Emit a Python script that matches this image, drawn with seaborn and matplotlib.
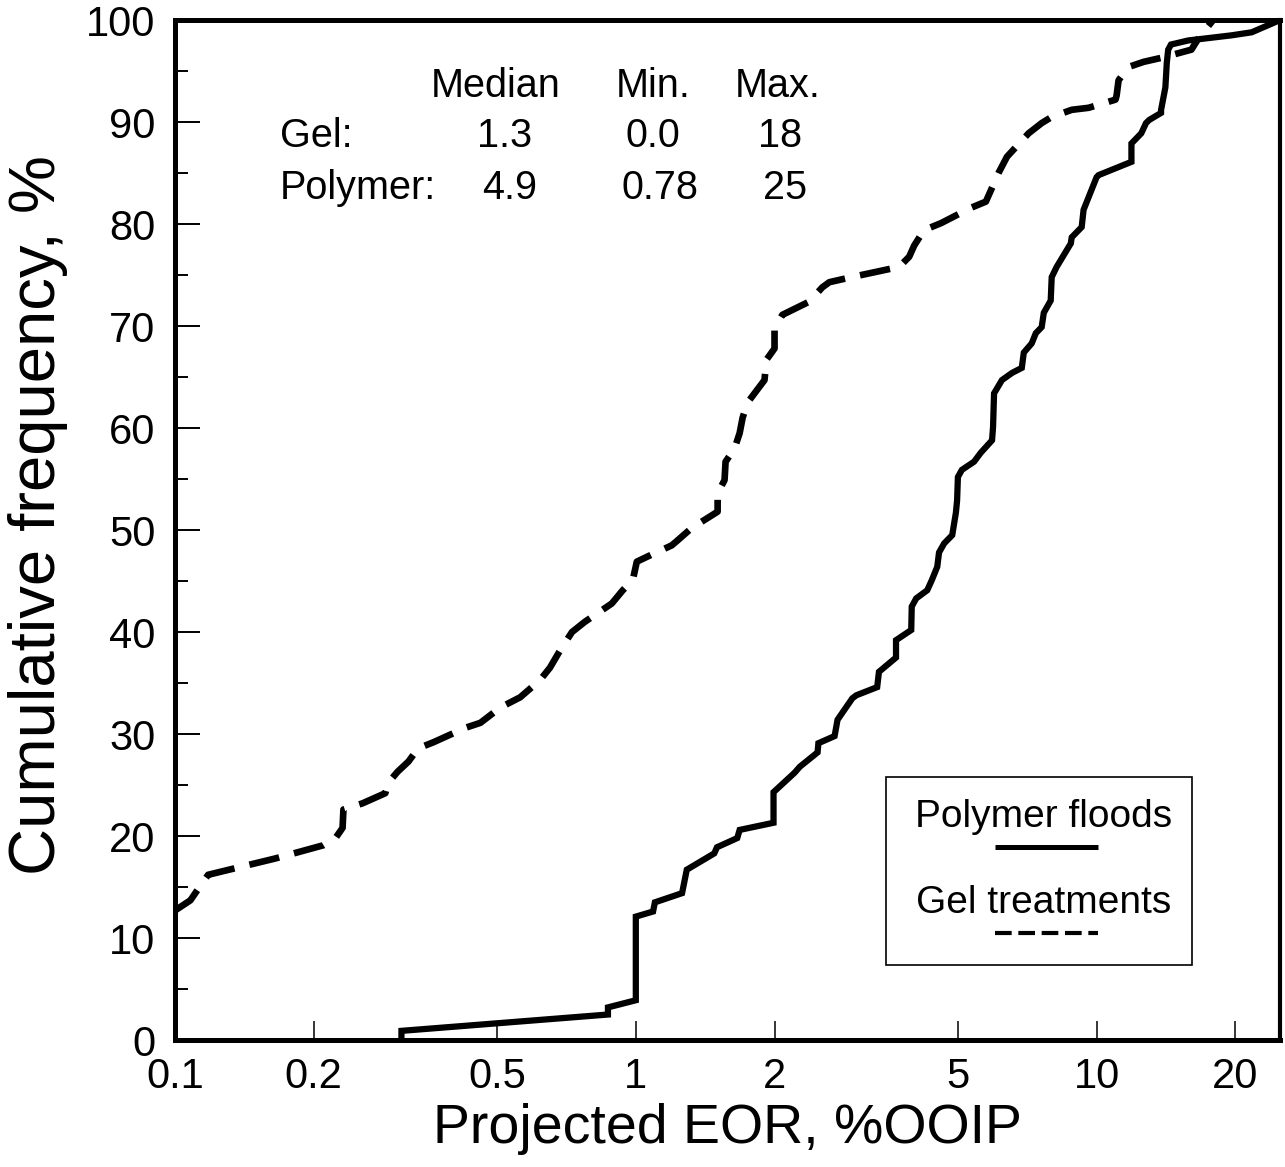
import matplotlib
matplotlib.use("Agg")
import matplotlib.pyplot as plt
from matplotlib.ticker import FixedLocator, FixedFormatter, MultipleLocator, NullLocator
from matplotlib.patches import Rectangle
import numpy as np
import pandas as pd
import seaborn as sns

# Cumulative frequency curves (projected EOR, %OOIP  vs  cumulative %)
polymer_eor = [0.31, 0.31, 0.87, 0.87, 1.0, 1.0, 1.09, 1.10, 1.26, 1.29, 1.48, 1.50,
               1.66, 1.68, 1.99, 1.99, 2.21, 2.27, 2.48, 2.49, 2.70, 2.74, 2.95, 3.01,
               3.34, 3.37, 3.67, 3.67, 3.96, 3.97, 4.06, 4.29, 4.39, 4.51, 4.55, 4.67,
               4.86, 4.95, 4.98, 5.00, 5.10, 5.42, 5.61, 5.93, 5.96, 5.99, 6.23, 6.55,
               6.88, 6.95, 7.23, 7.38, 7.60, 7.68, 7.95, 7.99, 8.19, 8.79, 8.83, 9.28,
               9.37, 10.0, 10.1, 11.9, 11.9, 12.5, 12.8, 13.0, 13.8, 13.8, 14.1, 14.2,
               14.3, 14.5, 15.8, 19.6, 21.7, 25.0]
polymer_cum = [0.0, 0.9, 2.5, 3.2, 3.9, 12.1, 12.6, 13.5, 14.4, 16.7, 18.3, 18.9,
               19.8, 20.6, 21.3, 24.3, 26.2, 26.8, 28.2, 29.1, 29.8, 31.4, 33.5, 33.8,
               34.6, 36.1, 37.5, 39.2, 40.2, 42.5, 43.3, 44.1, 45.1, 46.4, 47.8, 48.7,
               49.5, 51.7, 52.9, 55.2, 55.9, 56.7, 57.6, 58.8, 60.1, 63.4, 64.7, 65.4,
               65.9, 67.4, 68.3, 69.3, 69.9, 71.3, 72.5, 74.8, 75.8, 78.1, 78.7, 79.7,
               81.4, 84.6, 84.8, 86.1, 87.9, 88.9, 89.9, 90.2, 90.9, 91.2, 93.4, 95.8,
               97.1, 97.6, 98.0, 98.5, 98.8, 100.0]

gel_eor = [0.100, 0.108, 0.113, 0.118, 0.131, 0.165, 0.210, 0.223, 0.231, 0.232,
           0.255, 0.286, 0.290, 0.304, 0.321, 0.337, 0.364, 0.426, 0.460, 0.508,
           0.561, 0.620, 0.651, 0.685, 0.727, 0.775, 0.887, 0.937, 0.985, 1.005,
           1.083, 1.197, 1.233, 1.322, 1.505, 1.505, 1.558, 1.566, 1.638, 1.680,
           1.705, 1.748, 1.902, 1.921, 2.00, 2.00, 2.08, 2.38, 2.54, 2.63, 2.94,
           3.73, 3.92, 4.02, 4.22, 4.60, 5.34, 5.75, 6.14, 6.39, 7.12, 7.60, 7.99,
           8.83, 9.61, 10.99, 11.05, 11.16, 11.73, 12.64, 13.82, 16.06, 16.63, 17.9]
gel_cum = [12.7, 13.7, 15.0, 16.2, 16.7, 17.8, 19.1, 19.8, 20.8, 22.6,
           23.2, 24.2, 25.2, 26.3, 27.3, 28.6, 29.2, 30.6, 31.1, 32.6,
           33.6, 35.3, 36.5, 38.2, 40.0, 41.0, 42.8, 44.1, 45.1, 46.9,
           47.6, 48.5, 49.0, 50.2, 51.8, 53.6, 54.9, 56.7, 58.0, 59.5,
           61.0, 62.5, 64.7, 66.7, 67.8, 69.8, 71.1, 72.4, 73.8, 74.3, 74.8,
           75.8, 76.8, 77.9, 79.4, 80.1, 81.6, 82.2, 85.1, 86.6, 88.9, 89.9, 90.5,
           91.2, 91.4, 92.2, 92.6, 94.1, 95.4, 95.9, 96.3, 97.1, 98.2, 100.0]

x_ticks = [0.1, 0.2, 0.5, 1, 2, 5, 10, 20]
x_tick_labels = ["0.1", "0.2", "0.5", "1", "2", "5", "10", "20"]
y_ticks = list(range(0, 101, 10))

# Summary statistics table
stat_columns = ["Median", "Min.", "Max."]
stat_rows = ["Gel:", "Polymer:"]
gel_stats = ["1.3", "0.0", "18"]
polymer_stats = ["4.9", "0.78", "25"]

legend_labels = ["Polymer floods", "Gel treatments"]

sns.set_theme(style="white")
plt.rcParams["font.family"] = ["Liberation Sans", "DejaVu Sans"]

fig = plt.figure(figsize=(12.85, 11.67), dpi=100)
ax = fig.add_axes([0.1362, 0.1088, 0.8599, 0.874])
ax.set_xscale("log")

poly_df = pd.DataFrame({"eor": polymer_eor, "cum": polymer_cum})
gel_df = pd.DataFrame({"eor": gel_eor, "cum": gel_cum})

sns.lineplot(data=poly_df, x="eor", y="cum", sort=False, estimator=None,
             color="black", linewidth=4.5, ax=ax)
sns.lineplot(data=gel_df, x="eor", y="cum", sort=False, estimator=None,
             color="black", linewidth=4.8, ax=ax)
ax.lines[-1].set_linestyle((0, (4.6, 2.3)))
for ln in ax.lines:
    ln.set_solid_joinstyle("miter")

ax.set_xlim(0.1, 25)
ax.set_ylim(0, 100)

ax.xaxis.set_major_locator(FixedLocator(x_ticks))
ax.xaxis.set_major_formatter(FixedFormatter(x_tick_labels))
ax.xaxis.set_minor_locator(NullLocator())
ax.yaxis.set_major_locator(FixedLocator(y_ticks))
ax.yaxis.set_minor_locator(MultipleLocator(5))

ax.tick_params(axis="x", which="major", direction="in", length=14, width=1.1,
               labelsize=30, pad=12, colors="black", bottom=True)
ax.tick_params(axis="y", which="major", direction="in", length=18, width=1.4,
               labelsize=30, pad=14, colors="black", left=True)
ax.tick_params(axis="y", which="minor", direction="in", length=9, width=1.4,
               left=True, colors="black")

for side in ["left", "bottom", "top", "right"]:
    ax.spines[side].set_visible(True)
    ax.spines[side].set_color("black")
    ax.spines[side].set_linewidth(3.6)
ax.spines["right"].set_linewidth(3.0)

ax.set_xlabel("Projected EOR, %OOIP", fontsize=40, color="black")
ax.set_ylabel("Cumulative frequency, %", fontsize=47, color="black")
ax.xaxis.set_label_coords(0.5, -0.062)
ax.yaxis.set_label_coords(-0.124, 0.515)
ax.yaxis.label.set_va("center")

# statistics table
col_x = [0.290, 0.4326, 0.5457]
gel_x = [0.2986, 0.4326, 0.5475]
poly_x = [0.3032, 0.4389, 0.552]
for lbl, xc in zip(stat_columns, col_x):
    ax.text(xc, 0.9245, lbl, transform=ax.transAxes, ha="center", va="baseline",
            fontsize=28.5, color="black")
ax.text(0.095, 0.8755, stat_rows[0], transform=ax.transAxes, ha="left",
        va="baseline", fontsize=28.5, color="black")
ax.text(0.095, 0.8245, stat_rows[1], transform=ax.transAxes, ha="left",
        va="baseline", fontsize=28.5, color="black")
for val, xc in zip(gel_stats, gel_x):
    ax.text(xc, 0.8755, val, transform=ax.transAxes, ha="center", va="baseline",
            fontsize=28.5, color="black")
for val, xc in zip(polymer_stats, poly_x):
    ax.text(xc, 0.8245, val, transform=ax.transAxes, ha="center", va="baseline",
            fontsize=28.5, color="black")

# legend box with label above each line sample
ax.add_patch(Rectangle((0.643, 0.0735), 0.277, 0.1845, transform=ax.transAxes,
                       fill=False, edgecolor="black", linewidth=1.2, zorder=5))
ax.text(0.786, 0.209, legend_labels[0], transform=ax.transAxes, ha="center",
        va="baseline", fontsize=28, color="black")
ax.text(0.786, 0.1245, legend_labels[1], transform=ax.transAxes, ha="center",
        va="baseline", fontsize=28, color="black")
ax.plot([0.742, 0.835], [0.189, 0.189], transform=ax.transAxes, color="black",
        linewidth=3.6, solid_capstyle="butt")
ax.plot([0.742, 0.835], [0.105, 0.105], transform=ax.transAxes, color="black",
        linewidth=3.0, linestyle=(0, (4.0, 1.6)))

fig.savefig("out.png", dpi=100, facecolor="white")
